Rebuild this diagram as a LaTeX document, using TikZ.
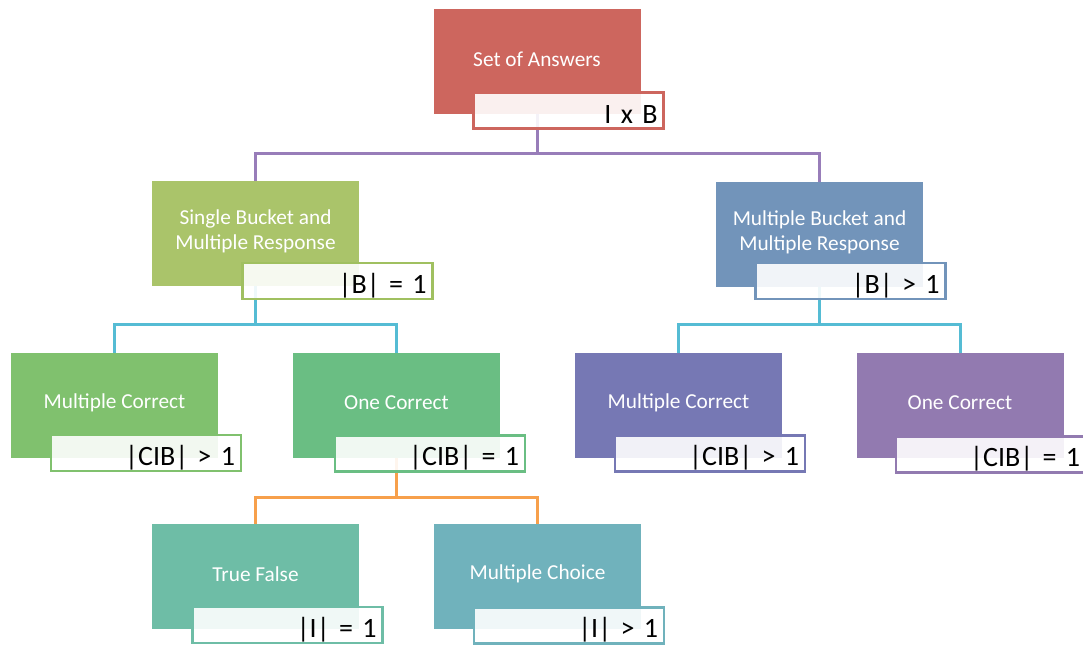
\documentclass[tikz,border=0pt]{standalone}
\usepackage{fontspec}
\setmainfont{Carlito}
\usetikzlibrary{calc}
\definecolor{cRoot}{RGB}{205,102,94}
\definecolor{cSB}{RGB}{170,196,106}
\definecolor{cSBb}{RGB}{160,192,96}
\definecolor{cMB}{RGB}{114,148,186}
\definecolor{cMC1}{RGB}{128,193,110}
\definecolor{cOC1}{RGB}{106,190,131}
\definecolor{cMC2}{RGB}{118,120,180}
\definecolor{cOC2}{RGB}{146,122,176}
\definecolor{cTF}{RGB}{110,189,166}
\definecolor{cMCh}{RGB}{112,178,188}
\definecolor{lnPurple}{RGB}{152,125,185}
\definecolor{lnCyan}{RGB}{85,188,212}
\definecolor{lnOrange}{RGB}{247,160,75}
\newcommand{\up}[1]{\raisebox{2.5pt}[\height][\depth]{#1}}
\newcommand{\two}[2]{\raisebox{2pt}[\height][\depth]{\shortstack{#1\\[4pt]#2}}}
\newcommand{\dn}[1]{\raisebox{-4.5pt}[\height][\depth]{#1}}
\tikzset{
  mainbox/.style={draw=none, fill=#1, minimum width=207pt, minimum height=105pt,
    inner sep=0pt, text=white, align=center,
    font=\fontsize{21.3}{26}\selectfont},
  tagbox/.style={draw=#1, line width=2.5pt, fill=white, fill opacity=0.9,
    text opacity=1, minimum width=190pt, minimum height=36pt, inner xsep=6pt,
    inner ysep=0pt, text width=178pt, align=right, text=black,
    font=\fontsize{28}{30}\selectfont},
  conn/.style={line width=3pt, draw=#1},
}
\begin{document}
\begin{tikzpicture}[x=1pt,y=-1pt]
\useasboundingbox (0,0) rectangle (1083,645);
% junction coordinates
\coordinate (j0) at (537,153);
\coordinate (j1) at (255.5,324);
\coordinate (j2) at (819.5,324);
\coordinate (j3) at (396.5,497);
% main box positions
\path (537,61.5) coordinate (pRoot)
      (255.5,233.5) coordinate (pSB)
      (819.5,234) coordinate (pMB)
      (114.5,405) coordinate (pMC1)
      (396.5,405) coordinate (pOC1)
      (678.5,405) coordinate (pMC2)
      (960,405) coordinate (pOC2)
      (255.5,576.5) coordinate (pTF)
      (537.5,576.5) coordinate (pMCh);
% connectors (behind)
\draw[conn=lnPurple] (pRoot) -- (j0) -| (pSB);
\draw[conn=lnPurple] (j0) -| (pMB);
\draw[conn=lnCyan] (pSB) -- (j1) -| (pMC1);
\draw[conn=lnCyan] (j1) -| (pOC1);
\draw[conn=lnCyan] (pMB) -- (j2) -| (pMC2);
\draw[conn=lnCyan] (j2) -| (pOC2);
\draw[conn=lnOrange] (pOC1) -- (j3) -| (pTF);
\draw[conn=lnOrange] (j3) -| (pMCh);
% main boxes
\node[mainbox=cRoot] (root) at (pRoot) {\up{Set of Answers}};
\node[mainbox=cSB] (sb) at (pSB) {\two{Single Bucket and}{Multiple Response}};
\node[mainbox=cMB] (mb) at (pMB) {\two{Multiple Bucket and}{Multiple Response}};
\node[mainbox=cMC1] (mc1) at (pMC1) {\up{Multiple Correct}};
\node[mainbox=cOC1] (oc1) at (pOC1) {\up{One Correct}};
\node[mainbox=cMC2] (mc2) at (pMC2) {\up{Multiple Correct}};
\node[mainbox=cOC2] (oc2) at (pOC2) {\up{One Correct}};
\node[mainbox=cTF] (tf) at (pTF) {\up{True False}};
\node[mainbox=cMCh] (mch) at (pMCh) {\up{Multiple Choice}};
% tag boxes
\node[tagbox=cRoot] (troot) at (568.5,110.5) {\dn{I x B}};
\node[tagbox=cSBb] (tsb) at (337.5,281) {\dn{|B| = 1}};
\node[tagbox=cMB] (tmb) at (850.5,281) {\dn{|B| > 1}};
\node[tagbox=cMC1] (tmc1) at (146,453) {\dn{|CIB| > 1}};
\node[tagbox=cOC1] (toc1) at (430,453.5) {\dn{|CIB| = 1}};
\node[tagbox=cMC2] (tmc2) at (710,453.5) {\dn{|CIB| > 1}};
\node[tagbox=cOC2] (toc2) at (991,454.5) {\dn{|CIB| = 1}};
\node[tagbox=cTF] (ttf) at (287.5,625) {\dn{|I| = 1}};
\node[tagbox=cMCh] (tmch) at (569,625.5) {\dn{|I| > 1}};
\end{tikzpicture}
\end{document}
